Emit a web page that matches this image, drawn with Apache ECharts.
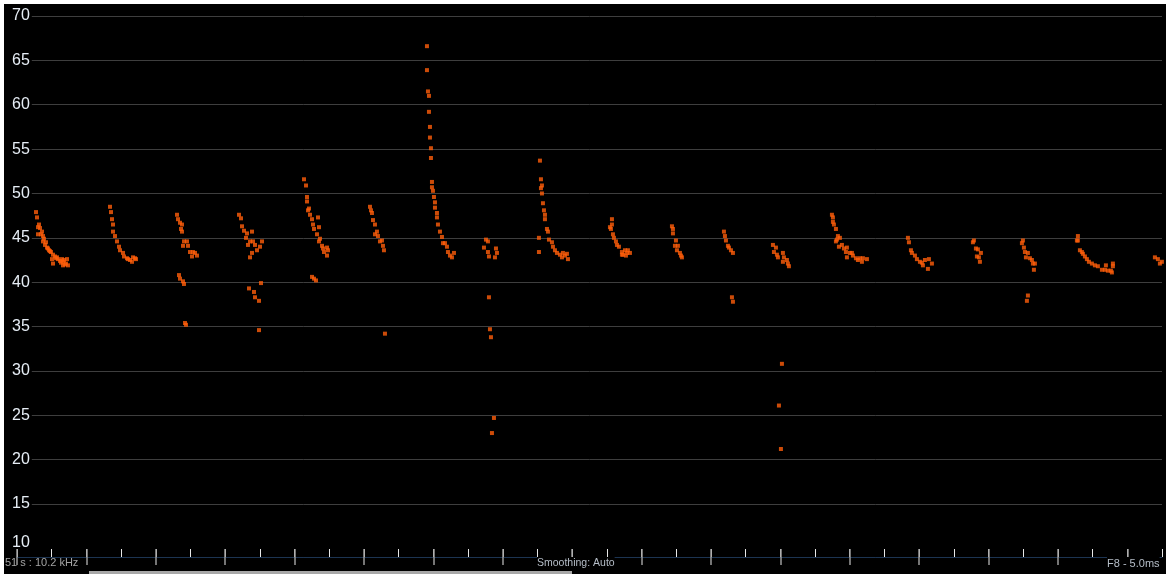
<!DOCTYPE html>
<html>
<head>
<meta charset="utf-8">
<script src="https://cdn.jsdelivr.net/npm/echarts@6/dist/echarts.min.js"></script>
<style>
    html, body {
        margin: 0;
        padding: 0;
        background: #fff;
    }

    .echart {
        position: absolute;
        left: 4px;
        top: 4px;
        width: 1162px;
        height: 570px;
        background: #000;
    }
</style>
</head>
<body>
<div class="echart" id="chart"></div>
<script>
// y 轴刻度
const yTicks = [10, 15, 20, 25, 30, 35, 40, 45, 50, 55, 60, 65, 70]
// x 轴: 帧序号 (一格 34.7)
const frameMax = 1145.1
const frameStep = 34.7

// 底部状态栏文字
const footerLeft = '51 s : 10.2 kHz'
const footerMid = 'Smoothing: Auto'
const footerRight = 'F8 - 5.0ms'

// 每一段音高点 [帧, 值]
const burst01 = [[19,47.9],[20,47.3],[22,46.5],[21,46.2],[23,46.1],[25,45.7],[21,45.4],[24,45.4],[26,45.2],[27,44.9],[26,44.6],[29,44.5],[28,44.2],[30,43.9],[31,43.8],[32,43.6],[33,43.5],[34,43.4],[36,43.1],[38,42.9],[39,42.7],[40,42.8],[35,42.6],[41,42.6],[43,42.4],[44,42.2],[45,42.6],[46,42.3],[47,42.5],[50,42.6],[36,42.1],[46,41.9],[48,42.0],[49,42.1],[51,41.9]]
const burst02 = [[93,48.5],[94,47.9],[95,47.1],[96,46.5],[96,45.7],[98,45.2],[100,44.6],[102,44.0],[103,43.6],[106,43.3],[107,42.9],[110,42.7],[111,42.6],[113,42.5],[115,42.3],[116,42.8],[118,42.7],[119,42.6]]
const burst03 = [[160,47.6],[161,47.1],[163,46.7],[165,46.5],[164,46.0],[165,45.7],[167,44.6],[170,44.6],[166,44.1],[171,44.1],[173,43.4],[176,43.4],[178,43.3],[175,42.9],[180,43.0],[162,40.8],[163,40.4],[166,40.1],[167,39.8],[168,35.4],[169,35.2]]
const burst04 = [[222,47.6],[224,47.2],[225,46.3],[227,45.8],[230,45.5],[235,45.7],[229,45.0],[233,44.6],[236,44.6],[231,44.2],[238,44.2],[243,44.0],[240,43.6],[245,44.6],[235,43.3],[233,42.8],[244,39.9],[232,39.3],[237,38.9],[238,38.3],[242,37.9],[242,34.6]]
const burst05 = [[287,51.6],[289,50.9],[290,49.6],[290,49.1],[292,48.3],[291,48.1],[293,47.6],[295,47.1],[296,46.5],[297,46.0],[300,45.4],[301,47.3],[302,46.2],[303,44.9],[302,44.6],[305,44.1],[306,43.8],[310,43.9],[311,43.6],[307,43.4],[310,43.0],[295,40.6],[297,40.4],[299,40.2]]
const burst06 = [[353,48.5],[354,48.1],[355,47.8],[356,47.0],[358,46.5],[358,45.4],[360,45.7],[361,45.2],[363,44.6],[365,44.7],[366,44.1],[367,43.6],[368,34.2]]
const burst07 = [[410,66.6],[410,63.9],[411,61.5],[412,61.0],[412,59.2],[413,57.5],[413,56.3],[414,55.1],[414,54.0],[415,51.3],[415,50.7],[416,50.3],[417,49.6],[418,49.0],[418,48.4],[420,47.8],[420,47.3],[421,46.5],[423,45.7],[425,45.1],[426,44.4],[428,44.4],[430,44.0],[431,43.4],[433,43.0],[435,42.8],[437,43.3]]
const burst08 = [[469,44.8],[471,44.6],[467,43.9],[471,43.4],[472,42.9],[479,43.8],[480,43.3],[478,42.8],[472,38.3],[473,34.7],[474,33.8],[477,24.7],[475,23.0]]
const burst09 = [[523,53.7],[524,51.6],[525,50.9],[524,50.6],[525,50.0],[526,48.9],[527,48.1],[528,47.6],[528,47.1],[530,46.0],[531,45.7],[522,45.0],[522,43.4],[532,44.8],[535,44.5],[536,44.0],[538,43.6],[540,43.3],[543,43.1],[546,43.3],[545,42.8],[550,43.2],[551,42.6],[548,43.0]]
const burst10 = [[595,47.1],[595,46.5],[593,46.2],[594,46.0],[596,45.4],[597,45.0],[599,44.6],[600,44.2],[602,44.0],[605,43.4],[606,43.1],[608,43.6],[610,43.3],[611,43.6],[613,43.3],[605,43.1],[609,43.0]]
const burst11 = [[655,46.3],[656,46.0],[656,45.5],[659,44.7],[658,44.1],[661,44.1],[660,43.6],[663,43.3],[664,43.0],[665,42.8]]
const burst12 = [[707,45.7],[708,45.2],[709,44.7],[711,44.1],[712,43.9],[714,43.6],[716,43.3],[715,38.3],[716,37.8]]
const burst13 = [[756,44.2],[759,43.9],[757,43.4],[760,43.1],[761,42.8],[766,43.3],[767,42.8],[766,42.3],[770,42.5],[771,42.1],[772,41.8],[765,30.8],[762,26.1],[764,21.2]]
const burst14 = [[815,47.6],[816,47.3],[816,46.8],[817,46.5],[819,46.0],[821,45.2],[820,44.8],[819,44.6],[823,45.0],[822,44.0],[825,44.2],[827,43.8],[830,43.9],[829,43.4],[833,43.3],[835,43.3],[830,42.8],[836,43.0],[839,42.7],[841,42.5],[845,42.3],[846,42.7],[850,42.6],[843,42.7]]
const burst15 = [[891,45.0],[892,44.5],[894,43.6],[895,43.3],[898,43.0],[900,42.6],[903,42.3],[906,41.9],[908,42.5],[912,42.6],[915,42.1],[911,41.5],[905,42.2]]
const burst16 = [[957,44.7],[956,44.5],[959,43.8],[961,43.7],[964,43.3],[960,42.9],[962,42.8],[963,42.3]]
const burst17 = [[1006,44.7],[1005,44.4],[1007,43.9],[1008,43.4],[1011,43.3],[1009,42.8],[1013,42.7],[1015,42.5],[1016,42.1],[1018,42.1],[1017,41.4],[1011,38.5],[1010,37.9]]
const burst18 = [[1061,45.2],[1061,44.7],[1060,44.7],[1063,43.6],[1065,43.4],[1066,43.2],[1068,42.9],[1070,42.6],[1072,42.3],[1075,42.1],[1078,41.9],[1081,41.8],[1085,41.4],[1088,41.4],[1089,41.9],[1091,41.3],[1094,41.3],[1096,42.1],[1096,41.8],[1095,41.1]]
const burst19 = [[1138,42.8],[1141,42.6],[1145,42.3],[1143,42.1]]

const points = [].concat(burst01, burst02, burst03, burst04, burst05, burst06, burst07, burst08, burst09, burst10,
    burst11, burst12, burst13, burst14, burst15, burst16, burst17, burst18, burst19)

const yMin = yTicks[0]
const yMax = yTicks[yTicks.length - 1]
const yStep = yTicks[1] - yTicks[0]

// 长刻度: 每两格一个
let longTicks = []
for (let t = 0; t < frameMax - 1; t += frameStep * 2) {
    longTicks.push(t)
}

let myChart = echarts.init(document.getElementById('chart'))

let option = {
    backgroundColor: '#000',
    animation: false,
    grid: {
        left: 13,
        right: 4,
        top: 12,
        bottom: 25.6,
        outerBoundsMode: 'none',
        containLabel: false
    },
    xAxis: [
        {
            // 短刻度 + 蓝色底线
            type: 'value',
            min: 0,
            max: frameMax,
            interval: frameStep,
            position: 'bottom',
            offset: 8.6,
            axisLine: { show: true, onZero: false, lineStyle: { color: '#1c3452', width: 1 } },
            axisTick: { show: true, inside: true, length: 8, lineStyle: { color: '#e8e8e8', width: 1 } },
            axisLabel: { show: false },
            splitLine: { show: false }
        },
        {
            // 长刻度
            type: 'value',
            min: 0,
            max: frameMax,
            interval: frameStep * 2,
            position: 'bottom',
            offset: 16.6,
            axisLine: { show: false, onZero: false },
            axisTick: {
                show: true, inside: true, length: 16, customValues: longTicks,
                lineStyle: { color: '#9c9c9c', width: 1.5 }
            },
            axisLabel: { show: false },
            splitLine: { show: false }
        }
    ],
    yAxis: [
        {
            type: 'value',
            position: 'left',
            min: yMin,
            max: yMax,
            interval: yStep,
            axisLine: { show: false },
            axisTick: { show: false },
            axisLabel: { show: false },
            splitLine: { show: true, showMinLine: false, lineStyle: { color: '#3e3e3e', width: 1 } }
        },
        {
            // 标签单独放一层, 盖住网格线左端
            type: 'value',
            position: 'left',
            z: 10,
            min: yMin,
            max: yMax,
            interval: yStep,
            axisLine: { show: false, onZero: false },
            axisTick: { show: false },
            splitLine: { show: false },
            axisLabel: {
                align: 'left',
                margin: 5,
                color: '#e6edf5',
                fontSize: 16,
                fontFamily: 'Liberation Sans',
                formatter: function (v) {
                    return v === yMin ? '{lo|' + v + '}' : '{n|' + v + '}'
                },
                rich: {
                    n: {
                        fontSize: 16, fontFamily: 'Liberation Sans', color: '#e6edf5',
                        backgroundColor: '#000', padding: [1, 2, 1, 0]
                    },
                    lo: { fontSize: 16, fontFamily: 'Liberation Sans', color: '#e6edf5', padding: [0, 0, 12, 0] }
                }
            }
        }
    ],
    series: [
        {
            type: 'scatter',
            data: points,
            symbol: 'rect',
            symbolSize: 4,
            itemStyle: { color: '#ff5e0a' }
        }
    ],
    graphic: [
        {
            type: 'text',
            left: 1,
            top: 553,
            z: 100,
            style: { text: footerLeft, fill: '#a4a4a4', font: '11px "Liberation Sans"' }
        },
        {
            type: 'text',
            left: 533,
            top: 553,
            z: 100,
            style: {
                text: footerMid, fill: '#b6bec8', font: '10.5px "Liberation Sans"',
                backgroundColor: '#000', padding: [1, 0, 1, 0]
            }
        },
        {
            type: 'text',
            left: 1103,
            top: 553,
            z: 100,
            style: {
                text: footerRight, fill: '#b6bec8', font: '11px "Liberation Sans"',
                backgroundColor: '#000', padding: [1, 0, 1, 0]
            }
        },
        {
            // 滚动条
            type: 'rect',
            left: 85,
            top: 567,
            z: 100,
            shape: { width: 483, height: 3 },
            style: { fill: '#a8a8a8' }
        }
    ]
}

myChart.setOption(option)
</script>
</body>
</html>
